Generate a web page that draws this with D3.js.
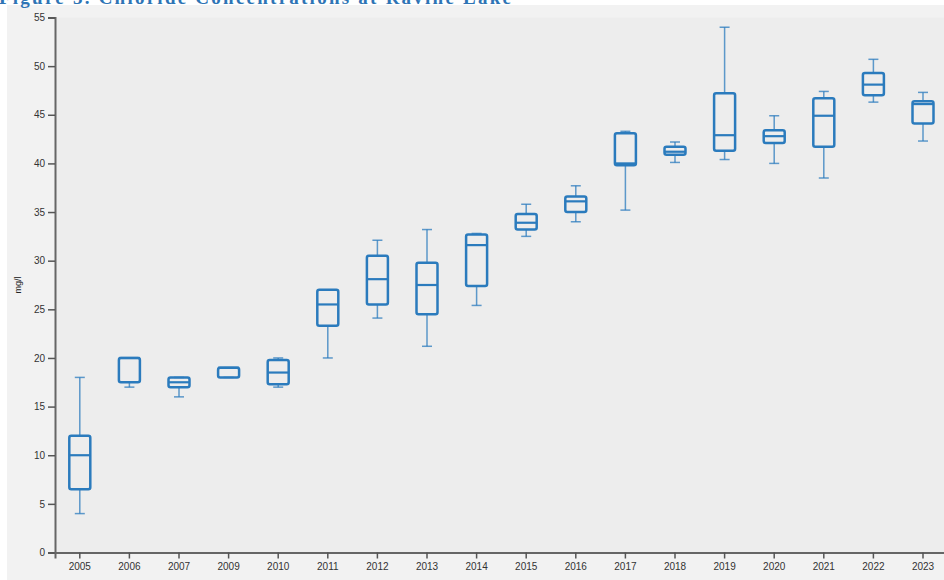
<!DOCTYPE html>
<html>
<head>
<meta charset="utf-8">
<script src="https://cdn.jsdelivr.net/npm/d3@7"></script>
<style>
  body { margin: 0; background: #fff; }
  svg text { font-family: "Liberation Sans", Arial, sans-serif; }
</style>
</head>
<body>
<div id="chart"></div>
<script>
// years sampled (no 2008)
const years = ["2005","2006","2007","2009","2010","2011","2012","2013","2014","2015",
               "2016","2017","2018","2019","2020","2021","2022","2023"];
// box plot stats, mg/l
const mins    = [4.0, 17.0, 16.0, 18.0, 17.0, 20.0, 24.1, 21.2, 25.4, 32.5, 34.0, 35.2, 40.1, 40.4, 40.0, 38.5, 46.3, 42.3];
const q1s     = [6.5, 17.5, 17.0, 18.0, 17.3, 23.3, 25.5, 24.5, 27.4, 33.2, 35.0, 39.8, 40.9, 41.3, 42.1, 41.7, 47.0, 44.1];
const medians = [10.0, 20.0, 17.5, 19.0, 18.5, 25.5, 28.1, 27.5, 31.6, 33.9, 36.1, 40.0, 41.2, 42.9, 42.8, 44.9, 48.1, 46.1];
const q3s     = [12.0, 20.0, 18.0, 19.0, 19.8, 27.0, 30.5, 29.8, 32.7, 34.8, 36.6, 43.1, 41.7, 47.2, 43.4, 46.7, 49.3, 46.4];
const maxs    = [18.0, 20.0, 18.0, 19.0, 20.0, 27.0, 32.1, 33.2, 32.8, 35.8, 37.7, 43.3, 42.2, 54.0, 44.9, 47.4, 50.7, 47.3];
const yTicks  = [0, 5, 10, 15, 20, 25, 30, 35, 40, 45, 50, 55];

const width = 944, height = 580;
const margin = {left: 55, top: 17.5, bottom: 552.5};
const blue = "#2b7bbd";

const svg = d3.select("#chart").append("svg")
    .attr("width", width)
    .attr("height", height);

// panel backgrounds
svg.append("rect")
    .attr("x", 7).attr("y", 5)
    .attr("width", width - 7).attr("height", height - 5)
    .attr("fill", "#f2f2f2");

svg.append("rect")
    .attr("x", margin.left).attr("y", margin.top)
    .attr("width", width - margin.left).attr("height", margin.bottom - margin.top)
    .attr("fill", "#ededed");

// title, cut off at the top like the source
svg.append("text")
    .attr("x", -1).attr("y", 4)
    .attr("textLength", 512)
    .style("font-family", "'Liberation Serif', 'Times New Roman', serif")
    .style("font-weight", "bold")
    .style("font-size", "19px")
    .attr("fill", "#2e74b5")
    .text("Figure 3.  Chloride Concentrations at Ravine Lake");

const x = d3.scaleBand()
    .domain(years)
    .range([margin.left, margin.left + 49.6 * years.length]);

const y = d3.scaleLinear()
    .domain([0, 55])
    .range([margin.bottom, margin.top]);

// axes
const yAxis = svg.append("g")
    .attr("transform", "translate(" + margin.left + ",0)")
    .call(d3.axisLeft(y).tickValues(yTicks).tickSize(7).tickPadding(3));

const xAxis = svg.append("g")
    .attr("transform", "translate(0," + margin.bottom + ")")
    .call(d3.axisBottom(x).tickSize(6).tickPadding(4));

[yAxis, xAxis].forEach(a => {
    a.select(".domain").attr("stroke", "#666").attr("stroke-width", 2);
    a.selectAll(".tick line").attr("stroke", "#555").attr("stroke-width", 1.5);
    a.selectAll(".tick text")
        .attr("fill", "#333")
        .style("font-size", "10px")
        .style("font-family", "'Liberation Sans', Arial, sans-serif");
});

svg.append("text")
    .attr("transform", "translate(21," + y(27.5) + ") rotate(-90)")
    .attr("text-anchor", "middle")
    .attr("fill", "#222")
    .style("font-size", "9px")
    .text("mg/l");

// boxes
const boxW = 21, capW = 10;
const boxes = svg.append("g");

years.forEach((yr, i) => {
    const cx = x(yr) + x.bandwidth() / 2;
    const g = boxes.append("g");

    // whiskers
    g.append("line")
        .attr("x1", cx).attr("x2", cx)
        .attr("y1", y(maxs[i])).attr("y2", y(q3s[i]))
        .attr("stroke", blue).attr("stroke-width", 1.5).attr("stroke-opacity", 0.75);
    g.append("line")
        .attr("x1", cx).attr("x2", cx)
        .attr("y1", y(q1s[i])).attr("y2", y(mins[i]))
        .attr("stroke", blue).attr("stroke-width", 1.5).attr("stroke-opacity", 0.75);
    [maxs[i], mins[i]].forEach(v => {
        g.append("line")
            .attr("x1", cx - capW / 2).attr("x2", cx + capW / 2)
            .attr("y1", y(v)).attr("y2", y(v))
            .attr("stroke", blue).attr("stroke-width", 1.5).attr("stroke-opacity", 0.75);
    });

    g.append("rect")
        .attr("x", cx - boxW / 2)
        .attr("y", y(q3s[i]))
        .attr("width", boxW)
        .attr("height", Math.max(0, y(q1s[i]) - y(q3s[i])))
        .attr("rx", 2)
        .attr("fill", "none")
        .attr("stroke", blue)
        .attr("stroke-width", 2.5);

    g.append("line")
        .attr("x1", cx - boxW / 2).attr("x2", cx + boxW / 2)
        .attr("y1", y(medians[i])).attr("y2", y(medians[i]))
        .attr("stroke", blue).attr("stroke-width", 2.2);
});
</script>
</body>
</html>
